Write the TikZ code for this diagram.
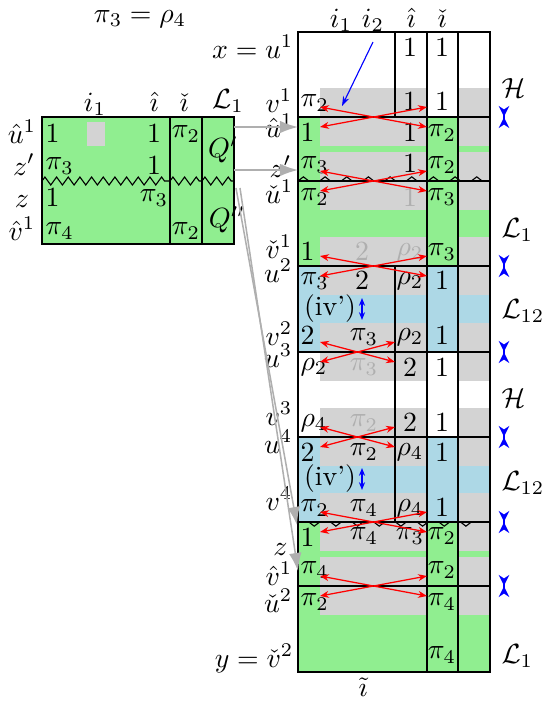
\documentclass[tikz,border=0pt]{standalone}
\usetikzlibrary{arrows.meta,decorations.pathmorphing}
\definecolor{lgreen}{RGB}{144,238,144}
\definecolor{lblue}{RGB}{173,216,230}
\definecolor{lgray}{RGB}{211,211,211}
\definecolor{gtext}{RGB}{175,175,175}
\definecolor{garr}{RGB}{175,175,175}
\begin{document}
\begin{tikzpicture}[x=0.36pt,y=-0.36pt,
  every node/.style={inner sep=0pt},
  cw/.style={anchor=west},
  gt/.style={text=gtext},
  lab/.style={anchor=base east},
  rlab/.style={anchor=base west},
  hd/.style={anchor=base},
  swp/.style={red,line width=0.45pt,{Stealth[length=3.2pt,width=2.5pt]}-{Stealth[length=3.2pt,width=2.5pt]}},
  bmk/.style={blue,line width=0.5pt,{Stealth[reversed,length=3.8pt,width=3.8pt]}-{Stealth[reversed,length=3.8pt,width=3.8pt]}},
  bdbl/.style={blue,line width=0.45pt,{Stealth[length=2.8pt,width=2.2pt]}-{Stealth[length=2.8pt,width=2.2pt]}},
  garrow/.style={draw=garr,line width=0.55pt,-{Latex[length=6.5pt,width=4.5pt]},garr},
  zzs/.style={decorate,decoration={zigzag,segment length=4.2pt,amplitude=1.44pt}},
  zzm/.style={decorate,decoration={zigzag,segment length=7.8pt,amplitude=1.5pt}},
]
\useasboundingbox (0,0) rectangle (545,702);

% ---------- main grid backgrounds ----------
\fill[white]  (298,32)  rectangle (490,117);
\fill[lgreen] (298,117) rectangle (490,266);
\fill[lblue]  (298,266) rectangle (490,352);
\fill[white]  (298,352) rectangle (490,437);
\fill[lblue]  (298,437) rectangle (490,522);
\fill[lgreen] (298,522) rectangle (490,672);
\foreach \ya/\yb in {88/117,117/146,152/181,181/210,237/266,266/295,323/352,352/381,408/437,437/466,493/522,522/551,557/586,586/615}{
  \fill[lgray] (320,\ya) rectangle (427,\yb);
  \fill[lgray] (458,\ya) rectangle (490,\yb);
}
% grid lines
\draw (298,32) rectangle (490,672);
\foreach \y in {117,181,266,352,437,522,586}{ \draw (298,\y) -- (490,\y); }
\draw (427,32) -- (427,672);
\draw (458,32) -- (458,672);
\draw (395,32) -- (395,117);
\draw (395,266) -- (395,522);
% zigzags in main grid
\begin{scope}
  \clip (298,170) rectangle (490,181);
  \draw[zzm] (298,181) -- (490,181);
\end{scope}
\begin{scope}
  \clip (298,522) rectangle (490,533);
  \draw[zzm] (298,522) -- (490,522);
\end{scope}

% ---------- left box ----------
\fill[lgreen] (42,117) rectangle (234,244);
\fill[lgray] (87,122) rectangle (105,146);
\draw (42,117) rectangle (234,244);
\draw (170,117) -- (170,244);
\draw (202,117) -- (202,244);
\draw[zzs] (42,181) -- (170,181);
\draw[zzs] (170,181) -- (202,181);
\draw[zzs] (202,181) -- (234,181);

% ---------- headers ----------
\node[hd] (hpr) at (140,22) {$\pi_3=\rho_4$};
\node[hd] (hi1) at (341,27) {$i_1$};
\node[hd] (hi2) at (373,27) {$i_2$};
\node[hd] (hih) at (411,27) {$\hat\imath$};
\node[hd] (hic) at (442,27) {$\check\imath$};
\node[hd] (hti) at (363,696) {$\tilde\imath$};
\node[hd] (Li1) at (95,111) {$i_1$};
\node[hd] (Lih) at (154,111) {$\hat\imath$};
\node[hd] (Lic) at (184,111) {$\check\imath$};
\node[hd] (LL1) at (228,108) {$\mathcal{L}_1$};

% ---------- left labels of main grid ----------
\node[lab] (lx)   at (294,58)  {$x=u^1$};
\node[lab] (lv1)  at (293,112) {$v^1$};
\node[lab] (luh1) at (294,137) {$\hat u^1$};
\node[lab] (lzp)  at (292,177) {$z'$};
\node[lab] (luc1) at (294,203) {$\check u^1$};
\node[lab] (lvc1) at (293,258) {$\check v^1$};
\node[lab] (lu2)  at (293,282) {$u^2$};
\node[lab] (lv2)  at (293,345) {$v^2$};
\node[lab] (lu3)  at (293,367) {$u^3$};
\node[lab] (lv3)  at (293,425) {$v^3$};
\node[lab] (lu4)  at (293,453) {$u^4$};
\node[lab] (lv4)  at (293,510) {$v^4$};
\node[lab] (lz)   at (288,555) {$z$};
\node[lab] (lvh1) at (293,585) {$\hat v^1$};
\node[lab] (luc2) at (293,612) {$\check u^2$};
\node[lab] (ly)   at (294,667) {$y=\check v^2$};

% ---------- left box labels ----------
\node[hd] (Luh1) at (22,143) {$\hat u^1$};
\node[hd] (Lzp)  at (24,175) {$z'$};
\node[hd] (Lz)   at (22,207) {$z$};
\node[hd] (Lvh1) at (22,240) {$\hat v^1$};

% ---------- right labels ----------
\node[rlab] (rH1)  at (501,97)  {$\mathcal{H}$};
\node[rlab] (rL1)  at (501,237) {$\mathcal{L}_1$};
\node[rlab] (rL12) at (501,318) {$\mathcal{L}_{12}$};
\node[rlab] (rH2)  at (501,407) {$\mathcal{H}$};
\node[rlab] (rL12b) at (501,490) {$\mathcal{L}_{12}$};
\node[rlab] (rL1b) at (501,663) {$\mathcal{L}_1$};

% ---------- left box cells ----------
\node[cw] (L1a) at (45,134) {$1$};
\node (L1b) at (154,134) {$1$};
\node (L1c) at (186,134) {$\pi_2$};
\node[cw] (L2a) at (45,166) {$\pi_3$};
\node (L2b) at (154,166) {$1$};
\node[cw] (L3a) at (45,198) {$1$};
\node (L3b) at (154,198) {$\pi_3$};
\node[cw] (L4a) at (45,231) {$\pi_4$};
\node (L4c) at (186,231) {$\pi_2$};
\node (Qp)  at (223,150) {$Q'$};
\node (Qpp) at (227,220) {$Q''$};

% ---------- main grid cells ----------
\node (a1i) at (410,48) {$1$};
\node (a1c) at (442,48) {$1$};
\node[cw] (b1) at (300,103) {$\pi_2$};
\node (b1i) at (410,102) {$1$};
\node (b1c) at (442,102) {$1$};
\node[cw] (c1) at (300,133) {$1$};
\node (c1i) at (410,133) {$1$};
\node (c1c) at (442,133) {$\pi_2$};
\node[cw] (d1) at (300,165) {$\pi_3$};
\node (d1i) at (410,164) {$1$};
\node (d1c) at (442,165) {$\pi_2$};
\node[cw] (e1) at (300,197) {$\pi_2$};
\node[gt] (e1i) at (410,198) {$1$};
\node (e1c) at (442,197) {$\pi_3$};
\node[cw] (f1) at (300,252) {$1$};
\node[gt] (f1m) at (362,252) {$2$};
\node[gt] (f1i) at (410,252) {$\rho_2$};
\node (f1c) at (442,252) {$\pi_3$};
\node[cw] (g1) at (300,281) {$\pi_3$};
\node (g1m) at (362,281) {$2$};
\node (g1i) at (410,281) {$\rho_2$};
\node (g1c) at (442,281) {$1$};
\node (iv1) at (330,309) {(iv')};
\node[cw] (h1) at (300,336) {$2$};
\node (h1m) at (364,337) {$\pi_3$};
\node (h1i) at (410,337) {$\rho_2$};
\node (h1c) at (442,336) {$1$};
\node[cw] (j1) at (300,367) {$\rho_2$};
\node[gt] (j1m) at (364,367) {$\pi_3$};
\node (j1i) at (410,368) {$2$};
\node (j1c) at (442,368) {$1$};
\node[cw] (k1) at (300,423) {$\rho_4$};
\node[gt] (k1m) at (364,423) {$\pi_2$};
\node (k1i) at (410,423) {$2$};
\node (k1c) at (442,423) {$1$};
\node[cw] (l1) at (300,453) {$2$};
\node (l1m) at (364,452) {$\pi_2$};
\node (l1i) at (410,452) {$\rho_4$};
\node (l1c) at (442,453) {$1$};
\node (iv2) at (330,479) {(iv')};
\node[cw] (m1) at (300,508) {$\pi_2$};
\node (m1m) at (364,508) {$\pi_4$};
\node (m1i) at (410,508) {$\rho_4$};
\node (m1c) at (442,508) {$1$};
\node[cw] (n1) at (300,538) {$1$};
\node (n1m) at (364,536) {$\pi_4$};
\node (n1i) at (410,536) {$\pi_3$};
\node (n1c) at (442,536) {$\pi_2$};
\node[cw] (o1) at (300,570) {$\pi_4$};
\node (o1c) at (442,570) {$\pi_2$};
\node[cw] (p1) at (300,602) {$\pi_2$};
\node (p1c) at (442,602) {$\pi_4$};
\node (q1c) at (442,655) {$\pi_4$};

% ---------- red swap arrows ----------
\foreach \b/\r [count=\k] in {117/427,181/427,266/427,352/395,437/395,522/427,586/427}{
  \coordinate (sa\k) at (320,\b-10);
  \coordinate (sb\k) at (\r,\b+10);
  \coordinate (sc\k) at (320,\b+10);
  \coordinate (sd\k) at (\r,\b-10);
  \draw[swp] (sa\k) -- (sb\k);
  \draw[swp] (sc\k) -- (sd\k);
}
% ---------- blue markers on the right ----------
\foreach \b [count=\k] in {117,266,352,437,522,586}{
  \coordinate (ma\k) at (504,\b-11);
  \coordinate (mb\k) at (504,\b+11);
  \draw[bmk] (ma\k) -- (mb\k);
}
% ---------- (iv') arrows ----------
\coordinate (iva) at (362,298);
\coordinate (ivb) at (362,320);
\draw[bdbl] (iva) -- (ivb);
\coordinate (ivc) at (362,468);
\coordinate (ivd) at (362,490);
\draw[bdbl] (ivc) -- (ivd);
% ---------- pointer from i2 ----------
\coordinate (pt0) at (373,42);
\coordinate (pt1) at (342,106);
\draw[blue,line width=0.4pt,-{Stealth[length=3.5pt,width=2.4pt]}] (pt0) -- (pt1);
% ---------- gray arrows from left box ----------
\coordinate (qa1) at (234,127);
\coordinate (qb1) at (298,127);
\coordinate (qa2) at (234,170);
\coordinate (qb2) at (298,170);
\coordinate (qa3) at (236,188);
\coordinate (qb3) at (297,525);
\coordinate (qa4) at (240,188);
\coordinate (qb4) at (298,571);
\draw[garrow] (qa1) -- (qb1);
\draw[garrow] (qa2) -- (qb2);
\draw[garrow] (qa3) -- (qb3);
\draw[garrow] (qa4) -- (qb4);
\end{tikzpicture}
\end{document}
